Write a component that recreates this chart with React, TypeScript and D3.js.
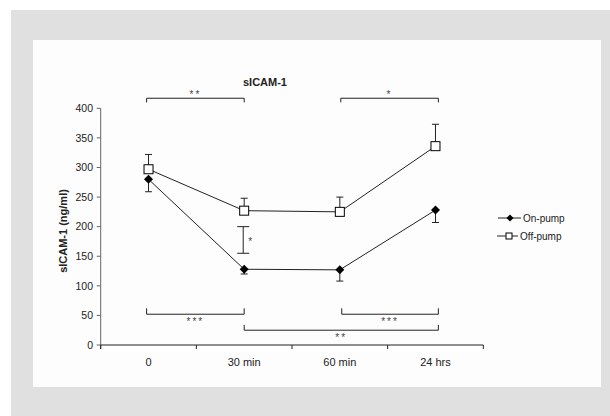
import * as d3 from "d3";

const categories = ["0", "30 min", "60 min", "24 hrs"];
const onPump = [280, 128, 127, 228];
const onPumpErr = [21, 8, 19, 21];
const offPump = [297, 227, 225, 336];
const offPumpErr = [25, 21, 25, 37];
const yTicks = [0, 50, 100, 150, 200, 250, 300, 350, 400];

// significance brackets, x in category index units
const brackets = [
  { from: -0.02, to: 1, value: 417, tip: 410, label: "**", below: false },
  { from: 2.01, to: 3.03, value: 417, tip: 410, label: "*", below: false },
  { from: -0.02, to: 1, value: 52, tip: 62, label: "***", below: true },
  { from: 2.02, to: 3.03, value: 52, tip: 62, label: "***", below: true },
  { from: 1, to: 3.03, value: 25, tip: 34, label: "**", below: true },
];
const vBracket = { at: 0.99, top: 200, bottom: 155, label: "*" };

const font = "'Liberation Sans', Arial, sans-serif";
const ink = "#222";

const App = () => {
  const width = 610;
  const height = 416;
  const left = 100.7;
  const right = 483.3;

  const y = d3.scaleLinear().domain([0, 400]).range([345, 108.3]);
  const xb = d3.scaleBand().domain(categories).range([left, right]).paddingInner(0);
  const xi = d3.scaleLinear().domain([-0.5, categories.length - 0.5]).range([left, right]);
  const cx = (c: string) => (xb(c) as number) + xb.bandwidth() / 2;

  const line = d3.line<number>().x((_, i) => cx(categories[i])).y(d => y(d));
  const diamond = (x: number, yy: number, r = 4.5) =>
    `M${x},${yy - r}L${x + r},${yy}L${x},${yy + r}L${x - r},${yy}Z`;

  const boundaries = [...categories.map(c => xb(c) as number), right];

  return (
    <svg
      width={width}
      height={height}
      style={{ position: "absolute", left: 0, top: 0, fontFamily: font }}
    >
      <rect x={0} y={0} width={width} height={height} fill="#fff" />
      <rect x={11} y={10} width={width - 11} height={height - 10} fill="#e0e0e0" />
      <rect x={33} y={40} width={568} height={347} fill="#fdfdfd" />

      <text x={265} y={86} textAnchor="middle" fontSize={11} fontWeight="bold" fill={ink}>
        sICAM-1
      </text>

      {/* y axis */}
      <line x1={left} x2={left} y1={y(400)} y2={349} stroke="#666" />
      {yTicks.map(t => (
        <g key={t}>
          <line x1={left - 4} x2={left} y1={y(t)} y2={y(t)} stroke="#666" />
          <text x={93} y={y(t) + 3.8} textAnchor="end" fontSize={10.5} fill={ink}>
            {t}
          </text>
        </g>
      ))}
      <text
        transform={`translate(66.5,231) rotate(-90)`}
        textAnchor="middle"
        fontSize={11}
        fontWeight="bold"
        fill={ink}
      >
        sICAM-1 (ng/ml)
      </text>

      {/* x axis */}
      <line x1={left} x2={right} y1={y(0)} y2={y(0)} stroke={ink} />
      {boundaries.map((b, i) => (
        <line key={i} x1={b} x2={b} y1={y(0)} y2={y(0) + 4} stroke={ink} />
      ))}
      {categories.map(c => (
        <text key={c} x={cx(c)} y={365.5} textAnchor="middle" fontSize={11} fill={ink}>
          {c}
        </text>
      ))}

      {/* brackets */}
      {brackets.map((b, i) => {
        const x1 = xi(b.from);
        const x2 = xi(b.to);
        const yy = y(b.value);
        const yt = y(b.tip);
        return (
          <g key={i}>
            <path d={`M${x1},${yt}V${yy}H${x2}V${yt}`} fill="none" stroke={ink} />
            <text
              x={(x1 + x2) / 2}
              y={b.below ? yy + 10.5 : yy}
              textAnchor="middle"
              fontSize={10}
              letterSpacing={2}
              fill="#444"
            >
              {b.label}
            </text>
          </g>
        );
      })}
      <path
        d={`M${xi(vBracket.at) - 6},${y(vBracket.top)}H${xi(vBracket.at) + 6}M${xi(vBracket.at)},${y(vBracket.top)}V${y(vBracket.bottom)}M${xi(vBracket.at) - 6},${y(vBracket.bottom)}H${xi(vBracket.at) + 6}`}
        fill="none"
        stroke={ink}
      />
      <text x={xi(vBracket.at) + 7} y={y(177) + 5} textAnchor="middle" fontSize={10} fill="#444">
        {vBracket.label}
      </text>

      {/* error bars */}
      {offPump.map((v, i) => {
        const x = cx(categories[i]);
        const top = y(v + offPumpErr[i]);
        return (
          <path key={"oe" + i} d={`M${x},${y(v)}V${top}M${x - 3.5},${top}H${x + 3.5}`} stroke={ink} fill="none" />
        );
      })}
      {onPump.map((v, i) => {
        const x = cx(categories[i]);
        const bot = y(v - onPumpErr[i]);
        return (
          <path key={"ne" + i} d={`M${x},${y(v)}V${bot}M${x - 3.5},${bot}H${x + 3.5}`} stroke={ink} fill="none" />
        );
      })}

      {/* series lines */}
      <path d={line(offPump) as string} fill="none" stroke={ink} strokeWidth={1} />
      <path d={line(onPump) as string} fill="none" stroke={ink} strokeWidth={1} />

      {onPump.map((v, i) => (
        <path key={"n" + i} d={diamond(cx(categories[i]), y(v))} fill="#000" />
      ))}
      {offPump.map((v, i) => (
        <rect
          key={"o" + i}
          x={cx(categories[i]) - 4.5}
          y={y(v) - 4.5}
          width={9}
          height={9}
          fill="#fff"
          stroke="#000"
        />
      ))}

      {/* legend */}
      <line x1={498} x2={521} y1={218} y2={218} stroke={ink} />
      <path d={diamond(510, 218, 3.5)} fill="#000" />
      <text x={523} y={221.5} fontSize={10} fill={ink}>
        On-pump
      </text>
      <line x1={497} x2={518} y1={236} y2={236} stroke={ink} />
      <rect x={506} y={233} width={6} height={6} fill="#fff" stroke="#000" />
      <text x={520} y={239.5} fontSize={10} fill={ink}>
        Off-pump
      </text>
    </svg>
  );
};

export default App;
